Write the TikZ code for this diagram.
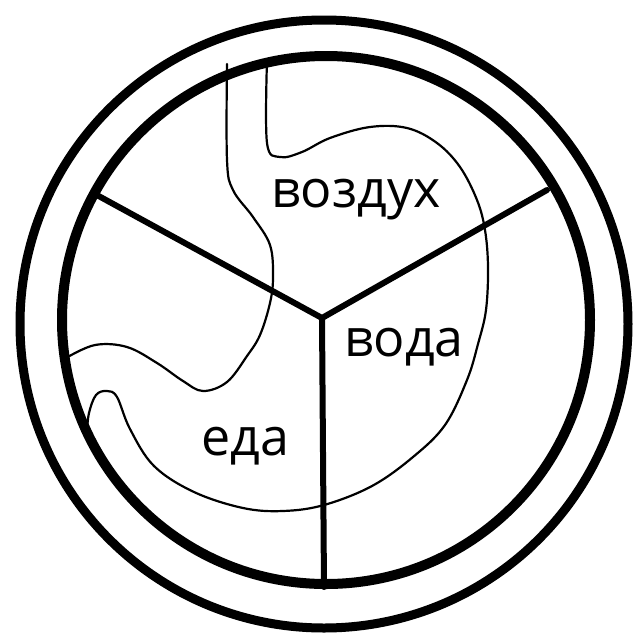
\documentclass[tikz,border=0pt]{standalone}
\usepackage{fontspec}
\setmainfont{Open Sans}
\usepackage{tikz}
\usetikzlibrary{positioning,calc}

\begin{document}
\begin{tikzpicture}[
  x=1pt, y=-1pt,
  % ── kreise, speichen, grenzlinien, woerter ──
  ring/.style={draw=black, line width=9pt},
  rim/.style={draw=black, line width=10pt},
  spoke/.style={draw=black, line width=6pt, line cap=round, line join=round},
  border/.style={draw=black, line width=2.2pt, line cap=round},
  word/.style={font=\fontsize{52}{56}\selectfont, inner sep=0pt, anchor=base},
]
\useasboundingbox (0,0) rectangle (635,638);

% ── ringe ────────────────────────────────────────────────
\draw[ring] (324,324) circle[radius=304pt];
\draw[rim]  (326,320) circle[radius=264pt];

% ── speichen ─────────────────────────────────────────────
\coordinate (hub) at (322,318);
\coordinate (sL) at (95,194);
\coordinate (sR) at (547,190);
\coordinate (sB) at (324,587);
\draw[spoke] (sL) -- (hub) -- (sR);
\draw[spoke] (hub) -- (sB);

% ── grenzlinien ──────────────────────────────────────────
\draw[border] plot[smooth, tension=0.6] coordinates {
  (227,64) (227,160) (233,190) (253,217) (270,245) (273,277) (270,303)
  (260,335) (247,356) (227,382) (203,391) (183,381) (157,363) (127,347)
  (95,345) (66,358)};
\draw[border] plot[smooth, tension=0.6] coordinates {
  (267,60) (267,143) (280,157) (302,152) (330,138) (370,127) (407,128)
  (437,143) (460,167) (477,200) (485,230) (488,267) (486,310) (478,344)
  (467,380) (445,425) (413,457) (372,486) (324,505) (283,511) (243,508)
  (194,492) (154,466) (130,429) (117,397) (107,391) (96,395) (89,413)
  (87,432)};

% ── woerter ──────────────────────────────────────────────
\node[word] (air)   at (356,207) {воздух};
\node[word] (water) at (404,356) {вода};
\node[word] (food)  at (245,455) {еда};
\end{tikzpicture}
\end{document}
